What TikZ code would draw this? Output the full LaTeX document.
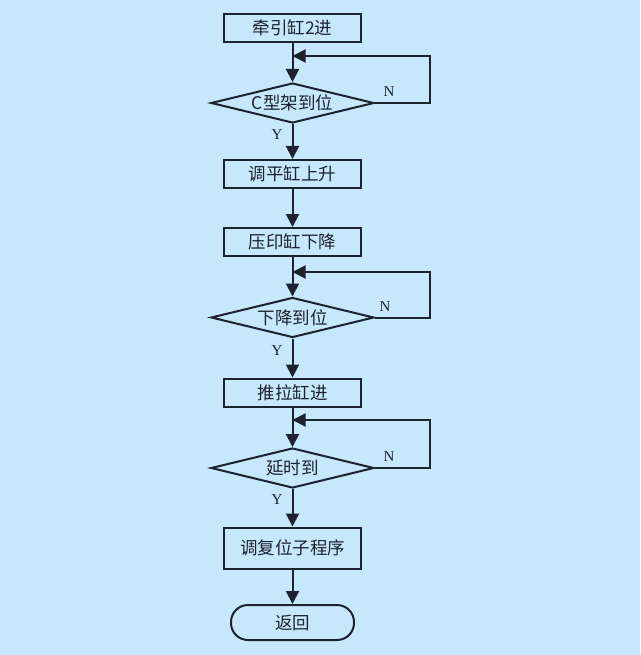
\documentclass[tikz,border=0pt]{standalone}
\usepackage{fontspec}
\setmainfont{Liberation Serif}
\newfontfamily\cjk{Noto Sans CJK SC}
\usetikzlibrary{shapes.geometric,arrows.meta}
\definecolor{bgblue}{RGB}{199,232,250}
\definecolor{ink}{RGB}{28,34,48}
\tikzset{
  procbox/.style={draw=ink, line width=2pt, rectangle, minimum width=137pt, minimum height=28pt, inner sep=0pt, font=\cjk\fontsize{17.5}{20}\selectfont, text=ink},
  decide/.style={draw=ink, line width=2pt, diamond, shape aspect=4, minimum width=163pt, minimum height=40pt, inner sep=0pt, font=\cjk\fontsize{17.5}{20}\selectfont, text=ink},
  termbox/.style={draw=ink, line width=2pt, rectangle, rounded corners=17pt, minimum width=123pt, minimum height=35pt, inner sep=0pt, font=\cjk\fontsize{17.5}{20}\selectfont, text=ink},
  flow/.style={-{Triangle[length=13pt,width=13pt]}, line width=2pt, draw=ink},
  yn/.style={font=\fontsize{15}{17}\selectfont, text=ink, inner sep=0pt}
}
\begin{document}
\begin{tikzpicture}[x=1pt,y=-1pt]
\fill[bgblue] (0,0) rectangle (640,655);
\useasboundingbox (0,0) rectangle (640,655);
% nodes
\node[procbox] (b1) at (292.5,28) {牵引缸2进};
\node[decide] (d1) at (292.5,103) {C型架到位};
\node[procbox] (b2) at (292.5,174) {调平缸上升};
\node[procbox] (b3) at (292.5,242) {压印缸下降};
\node[decide] (d2) at (292.5,317.5) {下降到位};
\node[procbox] (b4) at (292.5,392.5) {推拉缸进};
\node[decide] (d3) at (292.5,468) {延时到};
\node[procbox, minimum height=41pt] (b5) at (292.5,548) {调复位子程序};
\node[termbox] (t) at (292.5,622.5) {返回};
% loop points
\coordinate (j1) at (292.5,56);
\coordinate (r1) at (430,56);
\coordinate (j2) at (292.5,272);
\coordinate (r2) at (430,272);
\coordinate (j3) at (292.5,420);
\coordinate (r3) at (430,420);
% labels
\node[yn] (n1) at (389,92) {N};
\node[yn] (y1) at (277,135) {Y};
\node[yn] (n2) at (385,307) {N};
\node[yn] (y2) at (277,351) {Y};
\node[yn] (n3) at (389,457) {N};
\node[yn] (y3) at (277,500) {Y};
% connectors
\draw[flow] (b1.south) -- (d1.north);
\draw[flow] (d1.east) -| (r1) -- (j1);
\draw[flow] (d1.south) -- (b2.north);
\draw[flow] (b2.south) -- (b3.north);
\draw[flow] (b3.south) -- (d2.north);
\draw[flow] (d2.east) -| (r2) -- (j2);
\draw[flow] (d2.south) -- (b4.north);
\draw[flow] (b4.south) -- (d3.north);
\draw[flow] (d3.east) -| (r3) -- (j3);
\draw[flow] (d3.south) -- (b5.north);
\draw[flow] (b5.south) -- (t.north);
\end{tikzpicture}
\end{document}
